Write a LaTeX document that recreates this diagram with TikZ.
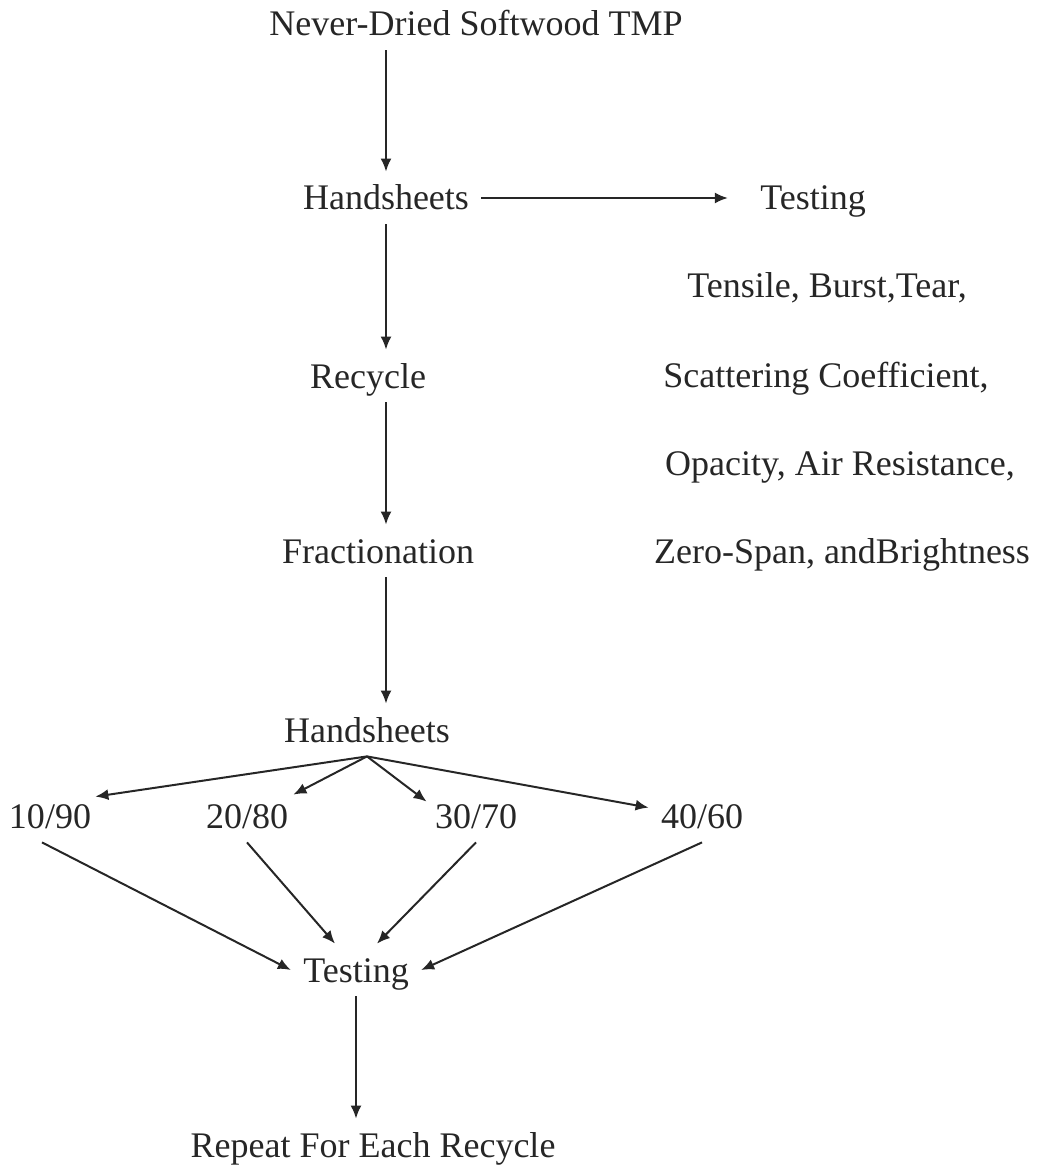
\documentclass[tikz,border=0pt]{standalone}
\usepackage{fontspec}
\setmainfont{Liberation Serif}
\usetikzlibrary{arrows.meta}
\definecolor{ink}{RGB}{38,38,38}
\begin{document}
\begin{tikzpicture}[x = 0.5pt, y = -0.5pt,
  lbl/.style = {font=\fontsize{18}{22}\selectfont, text=ink, anchor=base, inner xsep=6pt, inner ysep=7pt, text height=12pt, text depth=0pt},
  arr/.style = {draw=ink, line width=1pt, -{Latex[length=6.5pt, width=5.5pt]}}]
  \useasboundingbox (0, 0) rectangle (1041, 1165);
  \node[lbl] (nd) at (476, 36) {Never-Dried Softwood TMP};
  \node[lbl] (hs1) at (386, 210) {Handsheets};
  \node[lbl] (test1) at (813, 210) {Testing};
  \node[lbl] (tens) at (827, 298) {Tensile, Burst,Tear,};
  \node[lbl] (scat) at (826, 387) {Scattering Coefficient,};
  \node[lbl] (opac) at (840, 475) {Opacity, Air Resistance,};
  \node[lbl] (zero) at (842, 563) {Zero-Span, andBrightness};
  \node[lbl] (rec) at (368, 388) {Recycle};
  \node[lbl] (frac) at (378, 563) {Fractionation};
  \node[lbl] (hs2) at (367, 742) {Handsheets};
  \node[lbl] (r10) at (50, 828) {10/90};
  \node[lbl] (r20) at (247, 828) {20/80};
  \node[lbl] (r30) at (476, 828) {30/70};
  \node[lbl] (r40) at (702, 828) {40/60};
  \node[lbl] (test2) at (356, 982) {Testing};
  \node[lbl] (rep) at (373, 1157) {Repeat For Each Recycle};
  \draw[arr] (hs1 |- nd.south) -- (hs1.north);
  \draw[arr] (hs1.east) -- ([xshift=-10pt]test1.west);
  \draw[arr] (hs1.south) -- (hs1 |- rec.north);
  \draw[arr] (hs1 |- rec.south) -- (hs1 |- frac.north);
  \draw[arr] (hs1 |- frac.south) -- (hs1 |- hs2.north);
  \draw[arr] (hs2.south) -- ([shift={(-4pt,-3.5pt)}]r10.north east);
  \draw[arr] (hs2.south) -- ([shift={(-3.5pt,-2.5pt)}]r20.north east);
  \draw[arr] (hs2.south) -- ([shift={(2pt,-6pt)}]r30.north west);
  \draw[arr] (hs2.south) -- ([shift={(0pt,-9pt)}]r40.north west);
  \draw[arr] ([xshift=-4pt]r10.south) -- (test2.west);
  \draw[arr] (r20.south) -- ([xshift=-10.5pt]test2.north);
  \draw[arr] (r30.south) -- ([xshift=10.5pt]test2.north);
  \draw[arr] (r40.south) -- (test2.east);
  \draw[arr] (test2.south) -- (test2 |- rep.north);
\end{tikzpicture}
\end{document}
